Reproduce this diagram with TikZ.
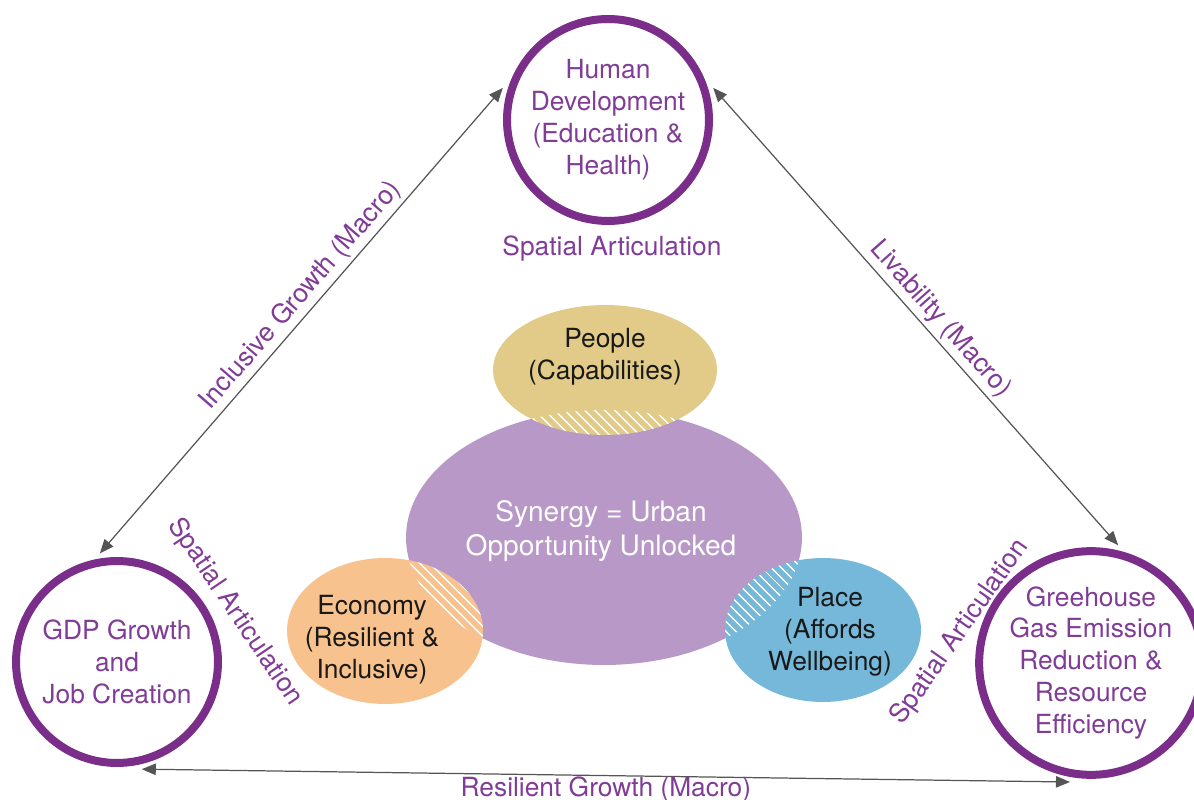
\documentclass[tikz,border=0pt]{standalone}
\usepackage{fontspec}
\setmainfont{TeX Gyre Heros}
\usetikzlibrary{arrows.meta, shapes.geometric, patterns.meta}
\definecolor{ringpurple}{RGB}{122,46,138}
\definecolor{labelpurple}{RGB}{128,60,150}
\definecolor{synergyfill}{RGB}{184,152,199}
\definecolor{peoplefill}{RGB}{226,203,136}
\definecolor{economyfill}{RGB}{248,194,142}
\definecolor{placefill}{RGB}{117,184,218}
\definecolor{arrowgray}{RGB}{85,85,85}
\tikzset{
    goalcircle/.style={circle, draw=ringpurple, line width=0.16cm, minimum size=4.04cm, inner sep=0pt, outer sep=0.18cm, align=center, text=labelpurple, font=\fontsize{15}{18.2}\selectfont},
    linktext/.style={text=labelpurple, font=\fontsize{15}{18}\selectfont, inner sep=2pt},
    blobtext/.style={text=black!90, align=center, font=\fontsize{15}{18.2}\selectfont},
    macroarrow/.style={{Triangle[length=8pt,width=6.5pt]}-{Triangle[length=8pt,width=6.5pt]}, arrowgray, line width=0.7pt},
    hatch/.style={pattern={Lines[angle=-45,distance=4pt,line width=0.9pt]}, pattern color=white},
}

\begin{document}
\begin{tikzpicture}[x=0.02cm, y=-0.02cm]
\useasboundingbox (0,0) rectangle (1194,800);

% Synergy and the three pillars
\fill[synergyfill] (604,537.5) ellipse [x radius=3.96cm, y radius=2.55cm];
\fill[peoplefill] (605,370) ellipse [x radius=2.24cm, y radius=1.3cm];
\fill[economyfill] (385,631) ellipse [x radius=1.96cm, y radius=1.46cm];
\fill[placefill] (823,630) ellipse [x radius=1.96cm, y radius=1.44cm];

% Overlaps
\begin{scope}
  \clip (604,537.5) ellipse [x radius=3.96cm, y radius=2.55cm];
  \fill[hatch] (605,370) ellipse [x radius=2.24cm, y radius=1.3cm];
  \fill[hatch] (385,631) ellipse [x radius=1.96cm, y radius=1.46cm];
  \fill[hatch] (823,630) ellipse [x radius=1.96cm, y radius=1.44cm];
\end{scope}

\node[blobtext, text=white, font=\fontsize{16}{19}\selectfont] (synergytxt) at (601,531) {Synergy = Urban\\Opportunity Unlocked};
\node[blobtext] (peopletxt) at (605,357) {People\\(Capabilities)};
\node[blobtext] (economytxt) at (372,640) {Economy\\(Resilient \&\\Inclusive)};
\node[blobtext] (placetxt) at (830,632) {Place\\(Affords\\Wellbeing)};

% Outcome circles
\node[goalcircle] (hd) at (608,120) {Human\\Development\\(Education \&\\Health)};
\node[goalcircle] (gdp) at (117,662) {GDP Growth\\and\\Job Creation};
\node[goalcircle] (ghg) at (1091,663) {Greehouse\\Gas Emission\\Reduction \&\\Resource\\Efficiency};

% Macro links
\draw[macroarrow] (gdp.99) -- node[linktext, sloped, above, pos=0.53] {Inclusive Growth (Macro)} (hd.163);
\draw[macroarrow] (hd.17) -- node[linktext, sloped, above, pos=0.53] {Livability (Macro)} (ghg.77);
\draw[macroarrow] (gdp.-77) -- node[linktext, below, inner sep=0.5pt] {Resilient Growth (Macro)} (ghg.-100);

% Spatial articulation
\node[linktext] (satop) at (612,249) {Spatial Articulation};
\node[linktext, rotate=-56] (saleft) at (235,612) {Spatial Articulation};
\node[linktext, rotate=55] (saright) at (960,632) {Spatial Articulation};
\end{tikzpicture}
\end{document}
